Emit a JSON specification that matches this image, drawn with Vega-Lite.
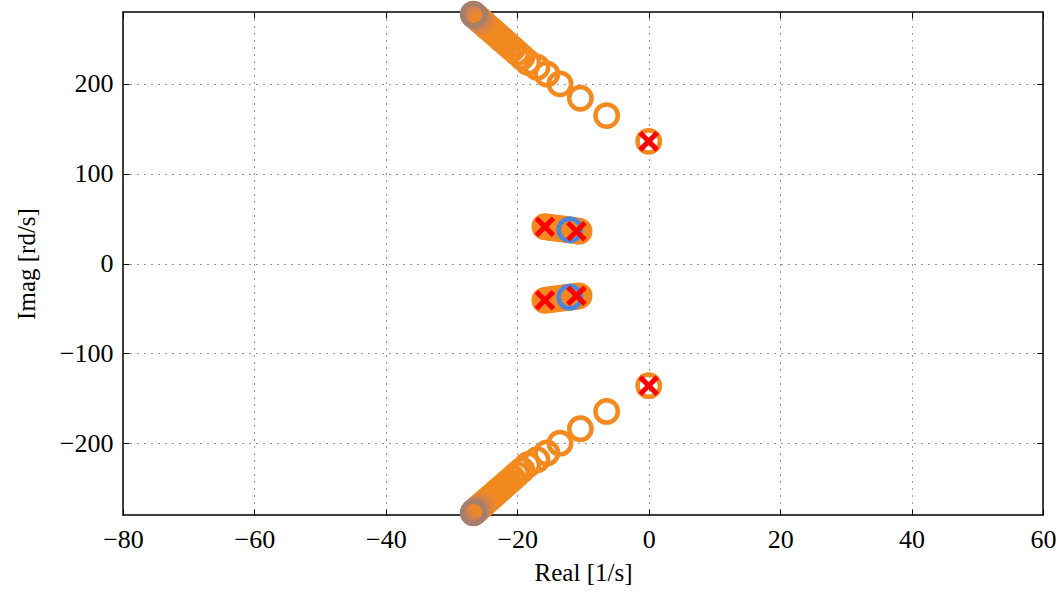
{
  "$schema": "https://vega.github.io/schema/vega-lite/v6.json",
  "width": 920,
  "height": 503,
  "autosize": {"type": "none"},
  "padding": {"left": 123, "top": 12, "right": 17, "bottom": 77},
  "background": "white",
  "config": {
    "view": {"stroke": "black", "strokeWidth": 1.5},
    "axis": {
      "labelFont": "Liberation Serif",
      "titleFont": "Liberation Serif",
      "labelFontSize": 26,
      "titleFontSize": 25,
      "titleFontWeight": "normal",
      "labelColor": "black",
      "titleColor": "black",
      "domain": false,
      "tickColor": "black",
      "tickSize": -6,
      "tickWidth": 1,
      "gridColor": "#333333",
      "gridDash": [1, 6],
      "gridWidth": 1
    }
  },
  "datasets": {
    "locus": [
      {"re": 0.0, "im": 136, "k": 0},
      {"re": -6.4, "im": 164.7, "k": 1},
      {"re": -10.4, "im": 184, "k": 2},
      {"re": -13.5, "im": 200, "k": 3},
      {"re": -15.5, "im": 211, "k": 4},
      {"re": -17.0, "im": 218.5, "k": 5},
      {"re": -18.4, "im": 224, "k": 6},
      {"re": -19.3, "im": 230, "k": 7},
      {"re": -20.04, "im": 234.75, "k": 8},
      {"re": -20.71, "im": 239.0, "k": 9},
      {"re": -21.30, "im": 242.8, "k": 10},
      {"re": -21.82, "im": 246.2, "k": 11},
      {"re": -22.33, "im": 249.5, "k": 12},
      {"re": -22.78, "im": 252.3, "k": 13},
      {"re": -23.22, "im": 255.2, "k": 14},
      {"re": -23.59, "im": 257.6, "k": 15},
      {"re": -23.96, "im": 259.9, "k": 16},
      {"re": -24.26, "im": 261.8, "k": 17},
      {"re": -24.55, "im": 263.7, "k": 18},
      {"re": -24.85, "im": 265.6, "k": 19},
      {"re": -25.07, "im": 267.1, "k": 20},
      {"re": -25.29, "im": 268.5, "k": 21},
      {"re": -25.52, "im": 269.9, "k": 22},
      {"re": -25.70, "im": 271.1, "k": 23},
      {"re": -25.89, "im": 272.3, "k": 24},
      {"re": -26.03, "im": 273.2, "k": 25},
      {"re": -26.18, "im": 274.2, "k": 26},
      {"re": -26.29, "im": 274.9, "k": 27},
      {"re": -26.40, "im": 275.6, "k": 28},
      {"re": -26.48, "im": 276.1, "k": 29},
      {"re": -26.55, "im": 276.6, "k": 30},
      {"re": -26.60, "im": 276.9, "k": 31},
      {"re": -26.65, "im": 277.2, "k": 32},
      {"re": -26.70, "im": 277.5, "k": 33},
      {"re": 0.0, "im": -136, "k": 0},
      {"re": -6.4, "im": -164.7, "k": 1},
      {"re": -10.4, "im": -184, "k": 2},
      {"re": -13.5, "im": -200, "k": 3},
      {"re": -15.5, "im": -211, "k": 4},
      {"re": -17.0, "im": -218.5, "k": 5},
      {"re": -18.4, "im": -224, "k": 6},
      {"re": -19.3, "im": -230, "k": 7},
      {"re": -20.04, "im": -234.75, "k": 8},
      {"re": -20.71, "im": -239.0, "k": 9},
      {"re": -21.30, "im": -242.8, "k": 10},
      {"re": -21.82, "im": -246.2, "k": 11},
      {"re": -22.33, "im": -249.5, "k": 12},
      {"re": -22.78, "im": -252.3, "k": 13},
      {"re": -23.22, "im": -255.2, "k": 14},
      {"re": -23.59, "im": -257.6, "k": 15},
      {"re": -23.96, "im": -259.9, "k": 16},
      {"re": -24.26, "im": -261.8, "k": 17},
      {"re": -24.55, "im": -263.7, "k": 18},
      {"re": -24.85, "im": -265.6, "k": 19},
      {"re": -25.07, "im": -267.1, "k": 20},
      {"re": -25.29, "im": -268.5, "k": 21},
      {"re": -25.52, "im": -269.9, "k": 22},
      {"re": -25.70, "im": -271.1, "k": 23},
      {"re": -25.89, "im": -272.3, "k": 24},
      {"re": -26.03, "im": -273.2, "k": 25},
      {"re": -26.18, "im": -274.2, "k": 26},
      {"re": -26.29, "im": -274.9, "k": 27},
      {"re": -26.40, "im": -275.6, "k": 28},
      {"re": -26.48, "im": -276.1, "k": 29},
      {"re": -26.55, "im": -276.6, "k": 30},
      {"re": -26.60, "im": -276.9, "k": 31},
      {"re": -26.65, "im": -277.2, "k": 32},
      {"re": -26.70, "im": -277.5, "k": 33},
      {"re": -15.8, "im": 41.0, "k": 0},
      {"re": -15.2, "im": 40.4, "k": 0},
      {"re": -14.6, "im": 39.8, "k": 0},
      {"re": -14.0, "im": 39.3, "k": 0},
      {"re": -13.4, "im": 38.7, "k": 0},
      {"re": -12.8, "im": 38.1, "k": 0},
      {"re": -12.2, "im": 37.6, "k": 0},
      {"re": -11.6, "im": 37.0, "k": 0},
      {"re": -11.0, "im": 36.4, "k": 0},
      {"re": -10.6, "im": 36.0, "k": 0},
      {"re": -15.8, "im": -41.0, "k": 0},
      {"re": -15.2, "im": -40.4, "k": 0},
      {"re": -14.6, "im": -39.8, "k": 0},
      {"re": -14.0, "im": -39.3, "k": 0},
      {"re": -13.4, "im": -38.7, "k": 0},
      {"re": -12.8, "im": -38.1, "k": 0},
      {"re": -12.2, "im": -37.6, "k": 0},
      {"re": -11.6, "im": -37.0, "k": 0},
      {"re": -11.0, "im": -36.4, "k": 0},
      {"re": -10.6, "im": -36.0, "k": 0}
    ],
    "blue": [
      {"re": -12.0, "im": 37.5},
      {"re": -12.0, "im": -37.5}
    ],
    "poles": [
      {"re": 0.0, "im": 136},
      {"re": 0.0, "im": -136},
      {"re": -15.8, "im": 41.0},
      {"re": -11.0, "im": 36.0},
      {"re": -15.8, "im": -41.0},
      {"re": -11.0, "im": -36.0}
    ]
  },
  "resolve": {"axis": {"x": "independent", "y": "independent"}},
  "layer": [
    {
      "data": {"name": "locus"},
      "mark": {"type": "point", "shape": "circle", "filled": false, "strokeWidth": 4.5, "size": 500, "opacity": 1, "clip": false},
      "encoding": {
        "x": {
          "field": "re", "type": "quantitative",
          "scale": {"domain": [-80, 60], "nice": false, "zero": false},
          "axis": {"values": [-80, -60, -40, -20, 0, 20, 40, 60], "title": "Real [1/s]", "grid": true, "labelPadding": 17, "titlePadding": 8, "labelFlush": false}
        },
        "y": {
          "field": "im", "type": "quantitative",
          "scale": {"domain": [-280, 280], "nice": false, "zero": false},
          "axis": {"values": [-200, -100, 0, 100, 200], "title": "Imag [rd/s]", "grid": true, "labelPadding": 16, "titlePadding": 20}
        },
        "color": {
          "field": "k", "type": "quantitative",
          "scale": {"domain": [0, 20, 33], "range": ["#f5891f", "#ef891f", "#a67f6c"]},
          "legend": null
        }
      }
    },
    {
      "data": {"name": "blue"},
      "mark": {"type": "point", "shape": "circle", "filled": false, "strokeWidth": 4.5, "size": 500, "color": "#4a86e0", "opacity": 1},
      "encoding": {
        "x": {"field": "re", "type": "quantitative", "axis": {"orient": "top", "values": [-80, -60, -40, -20, 0, 20, 40, 60], "labels": false, "title": null, "grid": false}},
        "y": {"field": "im", "type": "quantitative", "axis": {"orient": "right", "values": [-200, -100, 0, 100, 200], "labels": false, "title": null, "grid": false}}
      }
    },
    {
      "data": {"name": "poles"},
      "mark": {"type": "point", "shape": "M-1,-1L1,1M-1,1L1,-1", "filled": false, "strokeWidth": 5, "size": 290, "color": "#ff0000", "opacity": 1},
      "encoding": {
        "x": {"field": "re", "type": "quantitative", "axis": null},
        "y": {"field": "im", "type": "quantitative", "axis": null}
      }
    }
  ]
}
